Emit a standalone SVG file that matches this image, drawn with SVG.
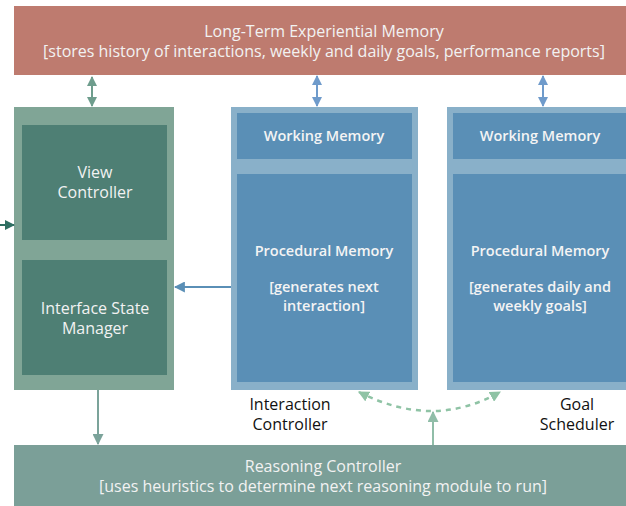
<svg xmlns="http://www.w3.org/2000/svg" width="626" height="506" viewBox="0 0 626 506">
<defs>
<style>
text{font-family:"Open Sans","Liberation Sans",sans-serif;text-anchor:middle}
.w{fill:#f2f2f2;font-size:16px}
.wb{fill:#f4f4f4;font-size:14.5px;font-weight:600}
.k{fill:#111;font-size:16px}
.lg{fill:#80a596}
.dg{fill:#4e7f74}
.lb{fill:#89b0c9}
.db{fill:#5a8fb6}
</style>
<marker id="hg" viewBox="0 0 10 10" refX="9" refY="5" markerWidth="10" markerHeight="10" markerUnits="userSpaceOnUse" orient="auto-start-reverse"><path d="M0,0L10,5L0,10z" fill="#6e9d8d"/></marker>
<marker id="hb" viewBox="0 0 10 10" refX="9" refY="5" markerWidth="10" markerHeight="10" markerUnits="userSpaceOnUse" orient="auto-start-reverse"><path d="M0,0L10,5L0,10z" fill="#6f9bcb"/></marker>
<marker id="hb2" viewBox="0 0 10 10" refX="9" refY="5" markerWidth="11" markerHeight="11" markerUnits="userSpaceOnUse" orient="auto-start-reverse"><path d="M0,0L10,5L0,10z" fill="#5a8fb6"/></marker>
<marker id="ht" viewBox="0 0 10 10" refX="9" refY="5" markerWidth="10" markerHeight="10" markerUnits="userSpaceOnUse" orient="auto"><path d="M0,0L10,5L0,10z" fill="#2f6f62"/></marker>
<marker id="hs" viewBox="0 0 10 10" refX="9" refY="5" markerWidth="11" markerHeight="11" markerUnits="userSpaceOnUse" orient="auto"><path d="M0,0L10,5L0,10z" fill="#7ba39a"/></marker>
<marker id="hl" viewBox="0 0 10 10" refX="9" refY="5" markerWidth="11" markerHeight="11" markerUnits="userSpaceOnUse" orient="auto-start-reverse"><path d="M0,0L10,5L0,10z" fill="#8fc3a5"/></marker>
<marker id="hl2" viewBox="0 0 10 10" refX="9" refY="5" markerWidth="11" markerHeight="11" markerUnits="userSpaceOnUse" orient="auto"><path d="M0,0L10,5L0,10z" fill="#90bda8"/></marker>
</defs>
<rect width="626" height="506" fill="#ffffff"/>
<g id="ltm">
<rect x="14" y="6" width="612" height="69" fill="#be7b6f"/>
<text class="w" x="324" y="37">Long-Term Experiential Memory</text>
<text class="w" x="324" y="57">[stores history of interactions, weekly and daily goals, performance reports]</text>
</g>
<g id="interface">
<rect class="lg" x="14" y="107" width="160" height="283"/>
<g id="view-controller">
<rect class="dg" x="22" y="125" width="145" height="115"/>
<text class="w" x="95" y="178">View</text>
<text class="w" x="95" y="198">Controller</text>
</g>
<g id="interface-state-manager">
<rect class="dg" x="22" y="260" width="145" height="115"/>
<text class="w" x="95" y="314">Interface State</text>
<text class="w" x="95" y="334">Manager</text>
</g>
</g>
<g id="interaction-controller">
<rect class="lb" x="231" y="107" width="187" height="283"/>
<rect class="db" x="237" y="113" width="175" height="46"/>
<text class="wb" x="324" y="141">Working Memory</text>
<rect class="db" x="237" y="174" width="175" height="208"/>
<text class="wb" x="324" y="256">Procedural Memory</text>
<text class="wb" x="324" y="292">[generates next</text>
<text class="wb" x="324" y="311">interaction]</text>
<text class="k" x="290" y="410">Interaction</text>
<text class="k" x="290" y="430">Controller</text>
</g>
<g id="goal-scheduler">
<rect class="lb" x="447" y="107" width="185" height="283"/>
<rect class="db" x="453" y="113" width="180" height="46"/>
<text class="wb" x="540" y="141">Working Memory</text>
<rect class="db" x="453" y="174" width="180" height="208"/>
<text class="wb" x="540" y="256">Procedural Memory</text>
<text class="wb" x="540" y="292">[generates daily and</text>
<text class="wb" x="540" y="311">weekly goals]</text>
<text class="k" x="577" y="410">Goal</text>
<text class="k" x="577" y="430">Scheduler</text>
</g>
<g id="reasoning-controller">
<rect x="14" y="445" width="612" height="61" fill="#7b9f98"/>
<text class="w" x="323" y="472">Reasoning Controller</text>
<text class="w" x="323" y="492">[uses heuristics to determine next reasoning module to run]</text>
</g>
<g id="connectors" fill="none">
<line x1="92" y1="77" x2="92" y2="106" stroke="#6e9d8d" stroke-width="2" marker-start="url(#hg)" marker-end="url(#hg)"/>
<line x1="317" y1="76" x2="317" y2="106" stroke="#6f9bcb" stroke-width="2" marker-start="url(#hb)" marker-end="url(#hb)"/>
<line x1="543" y1="76" x2="543" y2="106" stroke="#6f9bcb" stroke-width="2" marker-start="url(#hb)" marker-end="url(#hb)"/>
<line x1="0" y1="225" x2="14" y2="225" stroke="#2f6f62" stroke-width="2" marker-end="url(#ht)"/>
<line x1="231" y1="287" x2="175" y2="287" stroke="#5a8fb6" stroke-width="2" marker-end="url(#hb2)"/>
<line x1="98" y1="390" x2="98" y2="444" stroke="#7ba39a" stroke-width="2" marker-end="url(#hs)"/>
<path d="M359,392 Q433,430 500,392" stroke="#8fc3a5" stroke-width="2.5" stroke-dasharray="5,5" marker-start="url(#hl)" marker-end="url(#hl)"/>
<line x1="433" y1="445" x2="433" y2="412" stroke="#90bda8" stroke-width="2" marker-end="url(#hl2)"/>
</g>
</svg>
